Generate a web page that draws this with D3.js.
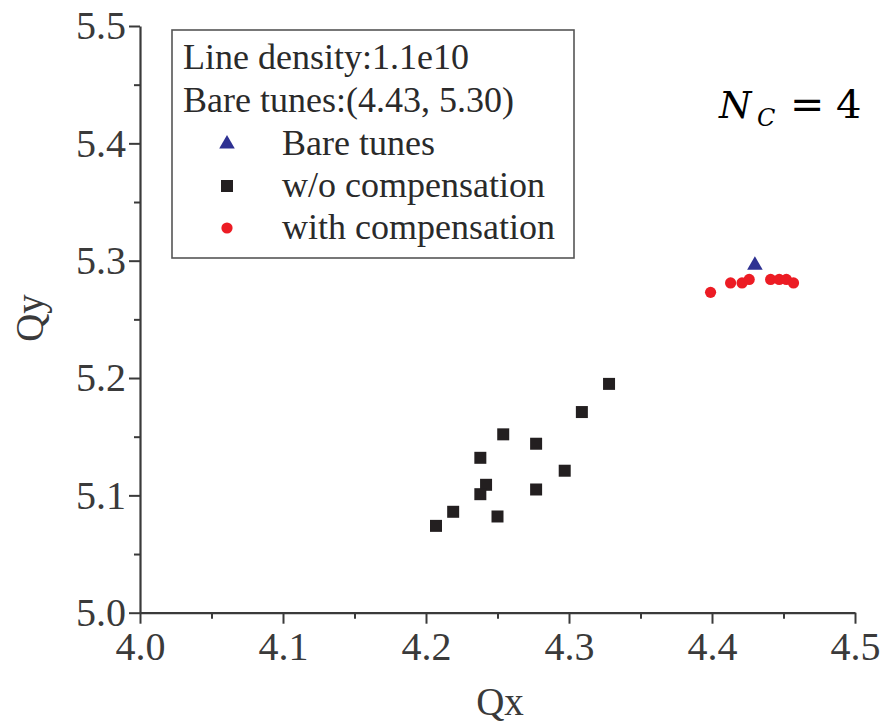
<!DOCTYPE html>
<html><head><meta charset="utf-8">
<script src="https://cdn.jsdelivr.net/npm/d3@7"></script>
<style>body{margin:0;background:#fff}svg{display:block}</style>
</head><body>
<svg id="c" width="881" height="722"></svg>
<script>
const bareQx = [4.430];
const bareQy = [5.297];
const woQx = [4.328, 4.309, 4.254, 4.277, 4.238, 4.297, 4.242, 4.238, 4.277, 4.219, 4.250, 4.207];
const woQy = [5.195, 5.171, 5.152, 5.144, 5.132, 5.121, 5.109, 5.101, 5.105, 5.086, 5.082, 5.074];
const withQx = [4.399, 4.413, 4.421, 4.426, 4.441, 4.447, 4.452, 4.457];
const withQy = [5.273, 5.281, 5.281, 5.284, 5.284, 5.284, 5.284, 5.281];
const xTicks = [4.0, 4.1, 4.2, 4.3, 4.4, 4.5];
const yTicks = [5.0, 5.1, 5.2, 5.3, 5.4, 5.5];
const xMinor = [4.05, 4.15, 4.25, 4.35, 4.45];
const yMinor = [5.05, 5.15, 5.25, 5.35, 5.45];
const legendInfo = ["Line density:1.1e10", "Bare tunes:(4.43, 5.30)"];
const legendItems = ["Bare tunes", "w/o compensation", "with compensation"];

const svg = d3.select("#c");
const serif = "'Liberation Serif','Times New Roman',serif";
const axisCol = "#3a3a3a";
const x = d3.scaleLinear().domain([4.0, 4.5]).range([140, 855]);
const y = d3.scaleLinear().domain([5.0, 5.5]).range([612.7, 26]);

function styleAxis(g){
  g.select(".domain").attr("stroke", axisCol).attr("stroke-width", 2.2);
  g.selectAll(".tick line").attr("stroke", axisCol).attr("stroke-width", 2);
  g.selectAll(".tick text").attr("fill", "#3a3a3a").style("font-family", serif).style("font-size", "40px");
}
// minor ticks
svg.append("g").attr("transform", "translate(0,612.7)")
  .call(d3.axisBottom(x).tickValues(xMinor).tickSize(6).tickFormat(""))
  .call(g => { g.select(".domain").remove(); g.selectAll(".tick line").attr("stroke", axisCol).attr("stroke-width", 2); });
svg.append("g").attr("transform", "translate(140,0)")
  .call(d3.axisLeft(y).tickValues(yMinor).tickSize(6).tickFormat(""))
  .call(g => { g.select(".domain").remove(); g.selectAll(".tick line").attr("stroke", axisCol).attr("stroke-width", 2); });
// major axes
svg.append("g").attr("transform", "translate(0,612.7)")
  .call(d3.axisBottom(x).tickValues(xTicks).tickSize(11).tickSizeOuter(0).tickPadding(8).tickFormat(d3.format(".1f")))
  .call(styleAxis)
  .call(g => g.selectAll(".tick text").attr("dy", "0.72em"));
svg.append("g").attr("transform", "translate(140,0)")
  .call(d3.axisLeft(y).tickValues(yTicks).tickSize(11).tickSizeOuter(0).tickPadding(3).tickFormat(d3.format(".1f")))
  .call(styleAxis);

// axis titles
svg.append("text").attr("x", 500).attr("y", 715).attr("text-anchor", "middle")
  .style("font-family", serif).style("font-size", "39px").attr("fill", "#3a3a3a").text("Qx");
svg.append("text").attr("transform", "translate(43,318) rotate(-90)").attr("text-anchor", "middle")
  .style("font-family", serif).style("font-size", "39px").attr("fill", "#3a3a3a").text("Qy");

// data
const tri = d3.symbol().type(d3.symbolTriangle).size(105);
const sq = d3.symbol().type(d3.symbolSquare).size(144);
const woData = woQx.map((v, i) => [v, woQy[i]]);
const withData = withQx.map((v, i) => [v, withQy[i]]);
const bareData = bareQx.map((v, i) => [v, bareQy[i]]);
svg.append("g").selectAll("path").data(woData).join("path")
  .attr("d", sq).attr("transform", d => `translate(${x(d[0])},${y(d[1])})`).attr("fill", "#231f20");
svg.append("g").selectAll("circle").data(withData).join("circle")
  .attr("cx", d => x(d[0])).attr("cy", d => y(d[1])).attr("r", 5.6).attr("fill", "#ec1c24");
svg.append("g").selectAll("path").data(bareData).join("path")
  .attr("d", tri).attr("transform", d => `translate(${x(d[0])},${y(d[1]) + 1})`).attr("fill", "#2e3192");

// legend
const lg = svg.append("g");
lg.append("rect").attr("x", 172).attr("y", 30).attr("width", 402).attr("height", 228)
  .attr("fill", "#fff").attr("stroke", "#555").attr("stroke-width", 1.6);
const lfs = "36px";
legendInfo.forEach((t, i) => {
  lg.append("text").attr("x", 183).attr("y", 69 + i * 43).style("font-family", serif).style("font-size", lfs)
    .attr("fill", "#2a2a2a").text(t);
});
const syms = [
  s => s.append("path").attr("d", tri).attr("fill", "#2e3192"),
  s => s.append("path").attr("d", sq).attr("fill", "#231f20"),
  s => s.append("circle").attr("r", 5.6).attr("fill", "#ec1c24")
];
legendItems.forEach((t, i) => {
  const yy = 155 + i * 42;
  const g = lg.append("g").attr("transform", `translate(227,${yy - 11})`);
  syms[i](g);
  lg.append("text").attr("x", 282).attr("y", yy).style("font-family", serif).style("font-size", lfs)
    .attr("fill", "#2a2a2a").text(t);
});

// annotation N_C = 4
const mathFont = "'DejaVu Serif',serif";
const ann = svg.append("g");
ann.append("text").attr("x", 719).attr("y", 118).style("font-family", mathFont).style("font-size", "37px")
  .style("font-style", "italic").attr("fill", "#000").text("N");
ann.append("text").attr("x", 757).attr("y", 126).style("font-family", mathFont).style("font-size", "24px")
  .style("font-style", "italic").attr("fill", "#000").text("C");
ann.append("text").attr("x", 790).attr("y", 118).style("font-family", mathFont).style("font-size", "41px")
  .attr("fill", "#000").text("=");
ann.append("text").attr("x", 836).attr("y", 118).style("font-family", mathFont).style("font-size", "40px")
  .attr("fill", "#000").text("4");
</script>
</body></html>
